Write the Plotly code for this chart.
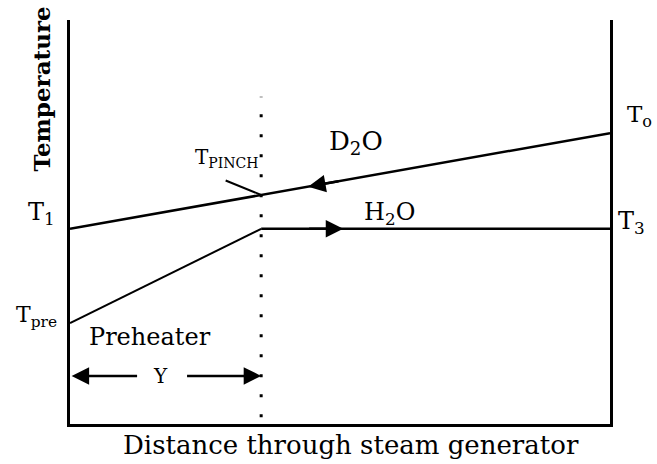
"""
Pinch-point temperature profile through a steam generator.
"""
import numpy as np
import plotly.graph_objects as go

# distance through steam generator (% of length), temperature (arbitrary scale 0-100)
distance = [0, 35.4, 100]
d2o_temp = [48.3, 56.7, 72.0]
h2o_temp = [25.0, 48.3, 48.3]
pinch_x = 35.4
pinch_dots_y = [1.7, 81.0]
preheat_arrow_y = 11.9

LINE = "black"
SERIF = "DejaVu Serif"

fig = go.Figure()

# D2O (hot side) line
fig.add_trace(go.Scatter(
    x=distance, y=d2o_temp, mode="lines",
    line=dict(color=LINE, width=2.5), showlegend=False, hoverinfo="skip",
))
# H2O (cold side): preheater slope then flat boiling line
fig.add_trace(go.Scatter(
    x=distance[:2], y=h2o_temp[:2], mode="lines",
    line=dict(color=LINE, width=2), showlegend=False, hoverinfo="skip",
))
fig.add_trace(go.Scatter(
    x=distance[1:], y=h2o_temp[1:], mode="lines",
    line=dict(color=LINE, width=2.5), showlegend=False, hoverinfo="skip",
))
# dotted pinch line
fig.add_trace(go.Scatter(
    x=[pinch_x, pinch_x], y=pinch_dots_y, mode="lines",
    line=dict(color=LINE, width=3, dash="3px,17px"), showlegend=False, hoverinfo="skip",
))


def arrow(tip_x, tail_x, y_tip, y_tail):
    fig.add_annotation(
        x=tip_x, y=y_tip, ax=tail_x, ay=y_tail,
        xref="x", yref="y", axref="x", ayref="y",
        text="", showarrow=True, arrowhead=2, arrowsize=1.4, arrowwidth=2.5,
        arrowcolor=LINE, standoff=0, startstandoff=0,
    )


# flow direction arrows on the lines
arrow(44.1, 50.0, np.interp(44.1, distance[::2], d2o_temp[::2]),
      np.interp(50.0, distance[::2], d2o_temp[::2]))
arrow(50.6, 44.0, h2o_temp[-1], h2o_temp[-1])
# preheater length "Y"
arrow(0.3, 12.7, preheat_arrow_y, preheat_arrow_y)
arrow(pinch_x, 21.4, preheat_arrow_y, preheat_arrow_y)

# leader line to the pinch point
fig.add_annotation(
    x=pinch_x, y=d2o_temp[1], ax=-37, ay=-15, text="", showarrow=True,
    arrowhead=0, arrowwidth=2, arrowcolor=LINE, standoff=0,
)

# labels inside the plot area (data coords)
labels = [
    ("D<sub>2</sub>O", 53.0, 69.8, "center", 26),
    ("H<sub>2</sub>O", 59.2, 52.2, "center", 24),
    ("T<sub>PINCH</sub>", 22.7, 65.8, "left", 20),
    ("Preheater", 14.8, 21.5, "center", 24),
    ("Y", 16.8, 11.9, "center", 20),
]
for text, x, y, anchor, size in labels:
    fig.add_annotation(
        x=x, y=y, xref="x", yref="y", text=text, showarrow=False,
        xanchor=anchor, yanchor="middle",
        font=dict(family=SERIF, size=size, color=LINE),
    )

# end temperatures beside the axes (paper coords)
side_labels = [
    ("T<sub>1</sub>", -0.024, 0.522, "right", 24),
    ("T<sub>pre</sub>", -0.020, 0.265, "right", 22),
    ("T<sub>o</sub>", 1.028, 0.762, "left", 23),
    ("T<sub>3</sub>", 1.011, 0.500, "left", 24),
]
for text, x, y, anchor, size in side_labels:
    fig.add_annotation(
        x=x, y=y, xref="paper", yref="paper", text=text, showarrow=False,
        xanchor=anchor, yanchor="middle",
        font=dict(family=SERIF, size=size, color=LINE),
    )

fig.add_annotation(
    x=-0.052, y=0.83, xref="paper", yref="paper", text="<b>Temperature</b>",
    textangle=-90, showarrow=False, xanchor="center", yanchor="middle",
    font=dict(family=SERIF, size=23, color=LINE),
)
fig.add_annotation(
    x=0.52, y=-0.052, xref="paper", yref="paper",
    text="Distance through steam generator", showarrow=False,
    xanchor="center", yanchor="middle",
    font=dict(family=SERIF, size=26, color=LINE),
)

fig.update_xaxes(
    range=[0, 100], showgrid=False, zeroline=False, showticklabels=False, ticks="",
    showline=True, linecolor=LINE, linewidth=3,
)
fig.update_yaxes(
    range=[0, 100], showgrid=False, zeroline=False, showticklabels=False, ticks="",
    showline=True, linecolor=LINE, linewidth=3, mirror=True,
)
fig.update_layout(
    width=657, height=464,
    margin=dict(l=70, r=47, t=20, b=40),
    plot_bgcolor="white", paper_bgcolor="white",
    showlegend=False,
)

# drop the page's default body margin so the figure fills the window exactly
fig.write_html(
    "out.html",
    config={"displayModeBar": False},
    post_script="document.body.style.margin = '0';",
)
